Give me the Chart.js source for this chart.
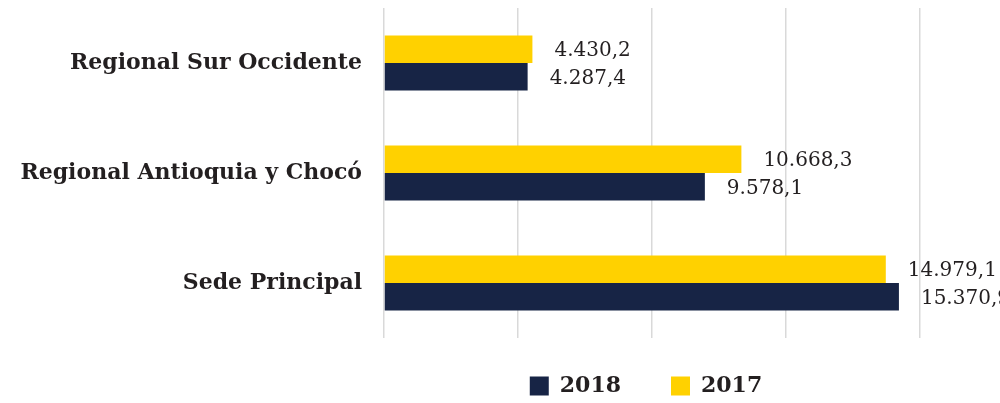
<!DOCTYPE html>
<html>
<head>
<meta charset="utf-8">
<script src="https://cdn.jsdelivr.net/npm/chart.js@4.4.0/dist/chart.umd.min.js"></script>
<style>
  html, body { margin: 0; padding: 0; background: #fff; }
  #wrap { width: 1000px; height: 403px; }
</style>
</head>
<body>
<div id="wrap"><canvas id="myChart"></canvas></div>
<script>
const categories = ['Regional Sur Occidente', 'Regional Antioquia y Chocó', 'Sede Principal'];
const values2017 = [4430.2, 10668.3, 14979.1];
const values2018 = [4287.4, 9578.1, 15370.9];
const xTicks = [0, 4000, 8000, 12000, 16000];

const yellow = '#ffd100';
const navy = '#172445';
const textColor = '#231f20';

// 4.430,2 style
function fmt(v) {
  const parts = v.toFixed(1).split('.');
  const intPart = parts[0].replace(/\B(?=(\d{3})+(?!\d))/g, '.');
  return intPart + ',' + parts[1];
}

const valueLabels = {
  id: 'valueLabels',
  afterDatasetsDraw(chart) {
    const ctx = chart.ctx;
    ctx.save();
    ctx.font = '20px "DejaVu Serif"';
    ctx.fillStyle = textColor;
    ctx.textAlign = 'left';
    ctx.textBaseline = 'middle';
    chart.data.datasets.forEach((ds, i) => {
      chart.getDatasetMeta(i).data.forEach((bar, j) => {
        ctx.fillText(fmt(ds.data[j]), bar.x + 22, bar.y + 2);
      });
    });
    ctx.restore();
  }
};

// legend padding is big for the gap between items, pull it back up a bit
// (bottom stays where it is so the legend clip doesn't cut the text)
const legendShift = {
  id: 'legendShift',
  afterLayout(chart) {
    const lg = chart.legend;
    lg.top -= 13;
    lg.left -= 6;
    lg.right -= 6;
  }
};

const ctx = document.getElementById('myChart').getContext('2d');
const myChart = new Chart(ctx, {
  type: 'bar',
  data: {
    labels: categories,
    datasets: [{
      label: '2017',
      data: values2017,
      backgroundColor: yellow,
      categoryPercentage: 0.5,
      barPercentage: 1
    }, {
      label: '2018',
      data: values2018,
      backgroundColor: navy,
      categoryPercentage: 0.5,
      barPercentage: 1
    }]
  },
  options: {
    indexAxis: 'y',
    responsive: true,
    maintainAspectRatio: false,
    animation: false,
    layout: { padding: { top: 8, right: 80, left: 0, bottom: 0 } },
    scales: {
      x: {
        min: xTicks[0],
        max: xTicks[xTicks.length - 1],
        afterBuildTicks: axis => { axis.ticks = xTicks.map(v => ({ value: v })); },
        ticks: { display: false },
        grid: { color: '#d9d9d9', lineWidth: 1.5, drawTicks: false },
        border: { display: false }
      },
      y: {
        afterFit: axis => {
          axis.width = 384;
          axis.paddingTop = 0;
          axis.paddingBottom = 0;
        },
        ticks: {
          color: textColor,
          padding: 22,
          font: { family: '"DejaVu Serif"', size: 22, weight: 'bold' }
        },
        grid: { display: false, drawTicks: false },
        border: { display: false }
      }
    },
    plugins: {
      tooltip: { enabled: false },
      legend: {
        position: 'bottom',
        reverse: true,
        fullSize: false,
        maxHeight: 65,
        labels: {
          color: textColor,
          boxWidth: 19,
          boxHeight: 19,
          padding: 50,
          font: { family: '"DejaVu Serif"', size: 22, weight: 'bold' }
        }
      }
    }
  },
  plugins: [valueLabels, legendShift]
});
</script>
</body>
</html>
